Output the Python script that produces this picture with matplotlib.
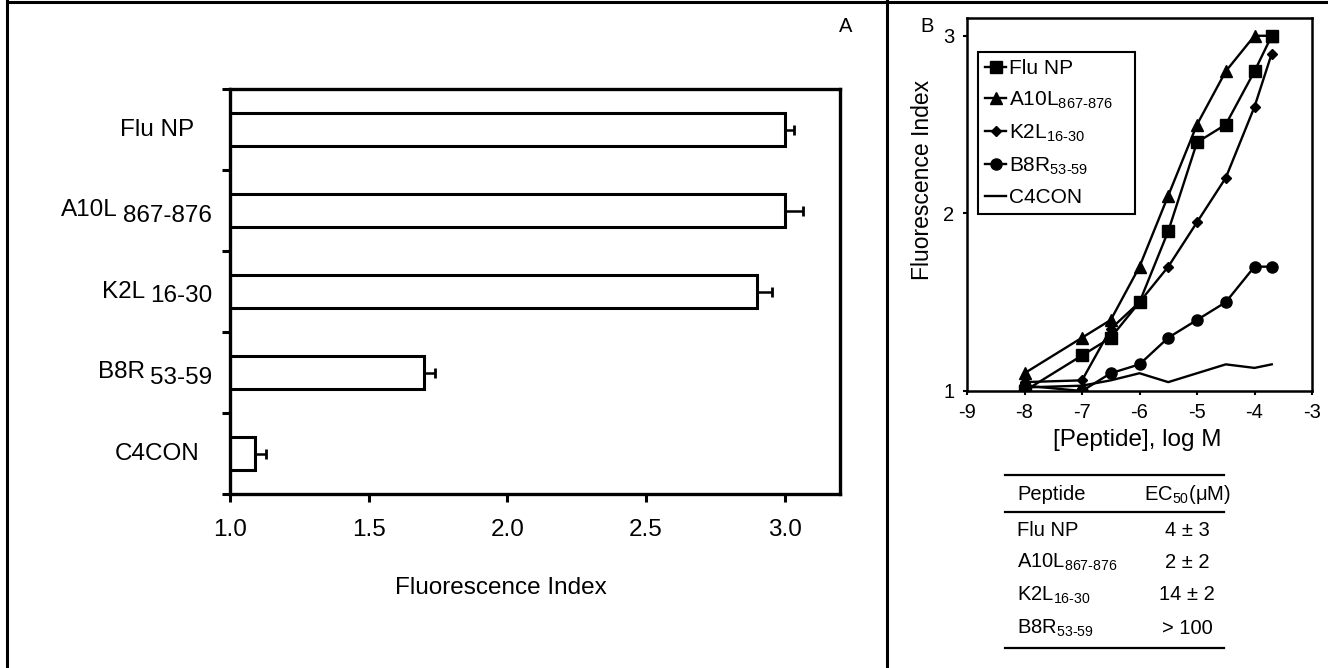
import numpy as np
import matplotlib
matplotlib.use("Agg")
import matplotlib.pyplot as plt
from matplotlib.lines import Line2D

plt.rcParams['font.family'] = ['Liberation Sans', 'DejaVu Sans']
plt.rcParams['mathtext.fontset'] = 'custom'
plt.rcParams['mathtext.rm'] = 'Liberation Sans'
plt.rcParams['mathtext.it'] = 'Liberation Sans:italic'
plt.rcParams['mathtext.bf'] = 'Liberation Sans:bold'
plt.rcParams['mathtext.default'] = 'regular'

# ---------------- data ----------------
# Panel A
categories = ['Flu NP', 'A10L', 'K2L', 'B8R', 'C4CON']
category_subs = ['', '867-876', '16-30', '53-59', '']
fluor_index = [3.00, 3.00, 2.90, 1.70, 1.09]
fluor_err = [0.035, 0.065, 0.055, 0.04, 0.04]
xticks_A = [1.0, 1.5, 2.0, 2.5, 3.0]

# Panel B
log_conc = [-8, -7, -6.5, -6, -5.5, -5, -4.5, -4, -3.7]
flu_np = [1.00, 1.20, 1.30, 1.50, 1.90, 2.40, 2.50, 2.80, 3.00]
a10l = [1.10, 1.30, 1.40, 1.70, 2.10, 2.50, 2.80, 3.00, 3.00]
k2l = [1.05, 1.06, 1.35, 1.50, 1.70, 1.95, 2.20, 2.60, 2.90]
b8r = [1.03, 1.00, 1.10, 1.15, 1.30, 1.40, 1.50, 1.70, 1.70]
c4con = [1.02, 1.03, 1.06, 1.10, 1.05, 1.10, 1.15, 1.13, 1.15]
xticks_B = [-9, -8, -7, -6, -5, -4, -3]
yticks_B = [1, 2, 3]

# Table
table_peptides = ['Flu NP', 'A10L', 'K2L', 'B8R']
table_subs = ['', '867-876', '16-30', '53-59']
table_ec50 = ['4 ± 3', '2 ± 2', '14 ± 2', '> 100']

# ---------------- figure ----------------
W, H = 1328, 668
fig = plt.figure(figsize=(W / 100, H / 100), dpi=100)
renderer = fig.canvas.get_renderer()


def fx(px):
    return px / W


def fy(py):
    return 1 - py / H


def mlabel(name, sub):
    return name if not sub else name + r'$_{\text{' + sub + '}}$'


# outer frame lines
for (x0, y0, x1, y1) in [(7, 1.5, W, 1.5), (7, 0, 7, H), (887, 0, 887, H)]:
    fig.add_artist(Line2D([fx(x0), fx(x1)], [fy(y0), fy(y1)], color='k', lw=2.2,
                          transform=fig.transFigure))

# ---------------- Panel A ----------------
FS_A = 17.5
axA = fig.add_axes([fx(230), fy(494), fx(610), 405 / H])
ypos = np.arange(len(categories))
axA.barh(ypos, fluor_index, height=0.4, color='white', edgecolor='black', linewidth=2.2,
         xerr=[np.zeros(len(fluor_err)), fluor_err],
         error_kw=dict(ecolor='black', elinewidth=1.8, capsize=3.5, capthick=2.0))
axA.set_xlim(1.0, 3.2)
axA.set_ylim(len(categories) - 0.5, -0.5)
axA.set_xticks(xticks_A)
axA.set_xticklabels([f'{v:.1f}' for v in xticks_A], fontsize=FS_A)
axA.set_yticks(np.arange(-0.5, len(categories), 1.0))
axA.set_yticklabels([])
for s in axA.spines.values():
    s.set_linewidth(2.4)
axA.tick_params(axis='both', direction='out', length=6, width=2.2, pad=12)

for i, (name, sub) in enumerate(zip(categories, category_subs)):
    if not sub:
        axA.annotate(name, xy=(0, i), xycoords=('axes fraction', 'data'),
                     xytext=(-(230 - 157) * 0.72, 0), textcoords='offset points',
                     ha='center', va='center', fontsize=FS_A)
    else:
        ts = axA.annotate(sub, xy=(0, i), xycoords=('axes fraction', 'data'),
                          xytext=(-(230 - 212) * 0.72, -5 * 0.72), textcoords='offset points',
                          ha='right', va='center', fontsize=FS_A)
        w = ts.get_window_extent(renderer).width
        axA.annotate(name, xy=(0, i), xycoords=('axes fraction', 'data'),
                     xytext=(-(230 - 212 + w + 5) * 0.72, 0), textcoords='offset points',
                     ha='right', va='center', fontsize=FS_A)

axA.text((501 - 230) / 610, (494 - 588) / 405, 'Fluorescence Index', transform=axA.transAxes,
         ha='center', va='center', fontsize=FS_A)
fig.text(fx(846), fy(27), 'A', ha='center', va='center', fontsize=14.5)

# ---------------- Panel B ----------------
axB = fig.add_axes([fx(967), fy(391), fx(345), 373 / H])
lw = 1.7
axB.plot(log_conc, c4con, color='k', lw=lw, label='C4CON', zorder=2)
axB.plot(log_conc, b8r, color='k', lw=lw, marker='o', ms=8, label=mlabel('B8R', '53-59'), zorder=3)
axB.plot(log_conc, k2l, color='k', lw=lw, marker='D', ms=5.5, label=mlabel('K2L', '16-30'), zorder=3)
axB.plot(log_conc, a10l, color='k', lw=lw, marker='^', ms=8.5, label=mlabel('A10L', '867-876'), zorder=3)
axB.plot(log_conc, flu_np, color='k', lw=lw, marker='s', ms=8, label='Flu NP', zorder=4)
axB.set_xlim(-9, -3)
axB.set_ylim(1, 3.1)
axB.set_xticks(xticks_B)
axB.set_xticklabels([str(v) for v in xticks_B], fontsize=14.5)
axB.set_yticks(yticks_B)
axB.set_yticklabels([str(v) for v in yticks_B], fontsize=14.5)
for s in axB.spines.values():
    s.set_linewidth(1.8)
axB.tick_params(axis='both', direction='out', length=3, width=1.5, pad=6)
for lab in axB.get_xticklabels():
    lab.set_clip_on(False)

handles, labels = axB.get_legend_handles_labels()
order = [4, 3, 2, 1, 0]
lx0 = (978 - 967) / 345
ltop = (391 - 52) / 373
lwid = (1135 - 978) / 345
leg = axB.legend([handles[k] for k in order], [labels[k] for k in order],
                 loc='upper left', bbox_to_anchor=(lx0, ltop - 0.5, lwid, 0.5), mode='expand',
                 borderaxespad=0, fontsize=15, handlelength=1.0, handletextpad=0.15,
                 labelspacing=0.55, borderpad=0.35, fancybox=False, framealpha=1,
                 edgecolor='black')
leg.get_frame().set_linewidth(1.5)

axB.text((923 - 967) / 345, (391 - 180) / 373, 'Fluorescence Index', transform=axB.transAxes,
         rotation=90, ha='center', va='center', fontsize=16.5)
axB.text((1137 - 967) / 345, (391 - 440) / 373, '[Peptide], log M', transform=axB.transAxes,
         ha='center', va='center', fontsize=17.5)
fig.text(fx(927), fy(27), 'B', ha='center', va='center', fontsize=14.5)

# ---------------- Table ----------------
for yy in [475, 512, 648]:
    fig.add_artist(Line2D([fx(1005), fx(1224)], [fy(yy), fy(yy)], color='k', lw=1.6,
                          transform=fig.transFigure))
FS_T = 14.5
fig.text(fx(1017), fy(495), 'Peptide', ha='left', va='center', fontsize=FS_T)
fig.text(fx(1187), fy(495), r'EC$_{50}$(μM)', ha='center', va='center', fontsize=FS_T)
row_y = [530, 562, 595, 628]
for yy, name, sub, val in zip(row_y, table_peptides, table_subs, table_ec50):
    fig.text(fx(1017), fy(yy), mlabel(name, sub), ha='left', va='center', fontsize=FS_T)
    fig.text(fx(1187), fy(yy), val, ha='center', va='center', fontsize=FS_T)

fig.savefig('out.png', dpi=100, facecolor='white')
